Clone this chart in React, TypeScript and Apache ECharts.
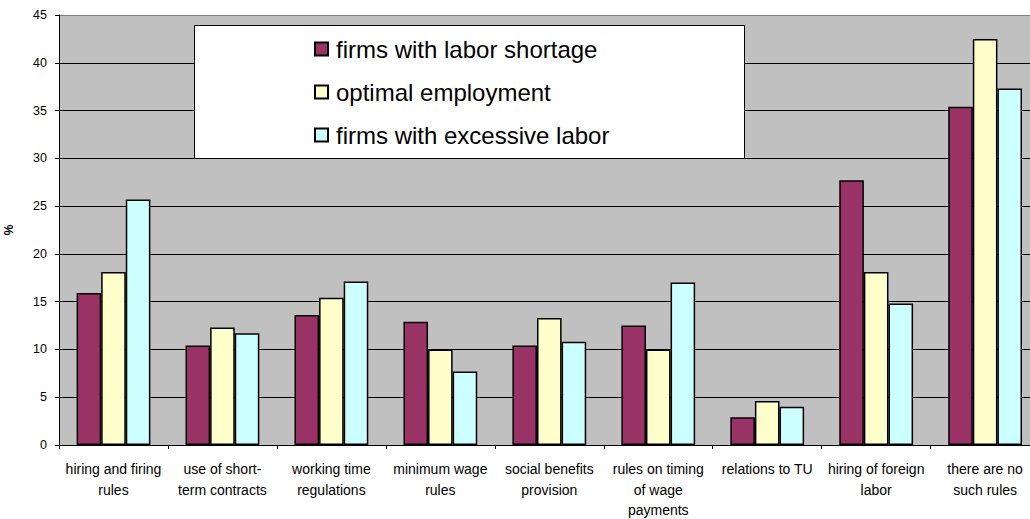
import React, { useEffect, useRef } from "react";
import * as echarts from "echarts";

const categories = [
  "hiring and firing\nrules",
  "use of short-\nterm contracts",
  "working time\nregulations",
  "minimum wage\nrules",
  "social benefits\nprovision",
  "rules on timing\nof wage\npayments",
  "relations to TU",
  "hiring of foreign\nlabor",
  "there are no\nsuch rules",
];

const seriesNames = [
  "firms with labor shortage",
  "optimal employment",
  "firms with excessive labor",
];

const shortage = [15.9, 10.4, 13.6, 12.9, 10.4, 12.5, 2.9, 27.7, 35.4];
const optimal = [18.1, 12.3, 15.4, 10.0, 13.3, 10.0, 4.6, 18.1, 42.5];
const excessive = [25.7, 11.7, 17.1, 7.7, 10.8, 17.0, 4.0, 14.8, 37.3];

const seriesColors = ["#993366", "#FFFFCC", "#CCFFFF"];

const FONT = "'Liberation Sans', Arial, Helvetica, sans-serif";

export default function App() {
  const ref = useRef<HTMLDivElement>(null);

  useEffect(() => {
    if (!ref.current) return;
    const chart = echarts.init(ref.current, null, { renderer: "svg" });
    const data = [shortage, optimal, excessive];
    const splitColors = [
      "#000", "#000", "#000", "#000", "#000",
      "#000", "#000", "#000", "#000", "#808080",
    ];
    chart.setOption({
      animation: false,
      backgroundColor: "#ffffff",
      textStyle: { fontFamily: FONT },
      grid: {
        left: 59,
        right: -9.6,
        top: 15,
        bottom: 74,
        show: true,
        backgroundColor: "#C0C0C0",
        borderWidth: 0,
        containLabel: false,
        outerBoundsMode: "none",
      },
      graphic: [
        {
          type: "rect",
          z: 10,
          shape: { x: 194.5, y: 25.5, width: 550, height: 133 },
          style: { fill: "#ffffff", stroke: "#000000", lineWidth: 1 },
        },
      ],
      legend: {
        z: 20,
        orient: "vertical",
        left: 314,
        top: 37,
        padding: 0,
        itemGap: 19,
        itemWidth: 13,
        itemHeight: 13,
        icon: "rect",
        textStyle: {
          fontFamily: FONT,
          fontSize: 24,
          lineHeight: 24,
          color: "#000",
          padding: [0, 0, 0, 3],
        },
        data: seriesNames,
      },
      xAxis: {
        type: "category",
        data: categories,
        axisLine: { show: true, lineStyle: { color: "#000", width: 1 } },
        axisTick: { show: true, length: 4, lineStyle: { color: "#000" } },
        axisLabel: {
          fontFamily: FONT,
          fontSize: 14,
          lineHeight: 20.5,
          color: "#000",
          margin: 14,
          interval: 0,
        },
      },
      yAxis: {
        type: "value",
        min: 0,
        max: 45,
        interval: 5,
        name: "%",
        nameLocation: "middle",
        nameRotate: 90,
        nameGap: 44,
        nameTextStyle: {
          fontFamily: FONT,
          fontSize: 12,
          fontWeight: "bold",
          color: "#000",
        },
        axisLine: { show: true, lineStyle: { color: "#000", width: 1 } },
        axisTick: { show: true, length: 4, lineStyle: { color: "#000" } },
        axisLabel: {
          fontFamily: FONT,
          fontSize: 12.5,
          color: "#000",
          margin: 12,
        },
        splitLine: {
          show: true,
          lineStyle: { color: splitColors, width: 1 },
        },
      },
      series: seriesNames.map((name, i) => ({
        name,
        type: "bar",
        data: data[i],
        barWidth: 24.6,
        barGap: "0%",
        itemStyle: {
          color: seriesColors[i],
          borderColor: "#000",
          borderWidth: 1.5,
        },
      })),
    });
    return () => chart.dispose();
  }, []);

  return (
    <div
      ref={ref}
      style={{ position: "fixed", left: 0, top: 0, width: 1030, height: 519 }}
    />
  );
}
